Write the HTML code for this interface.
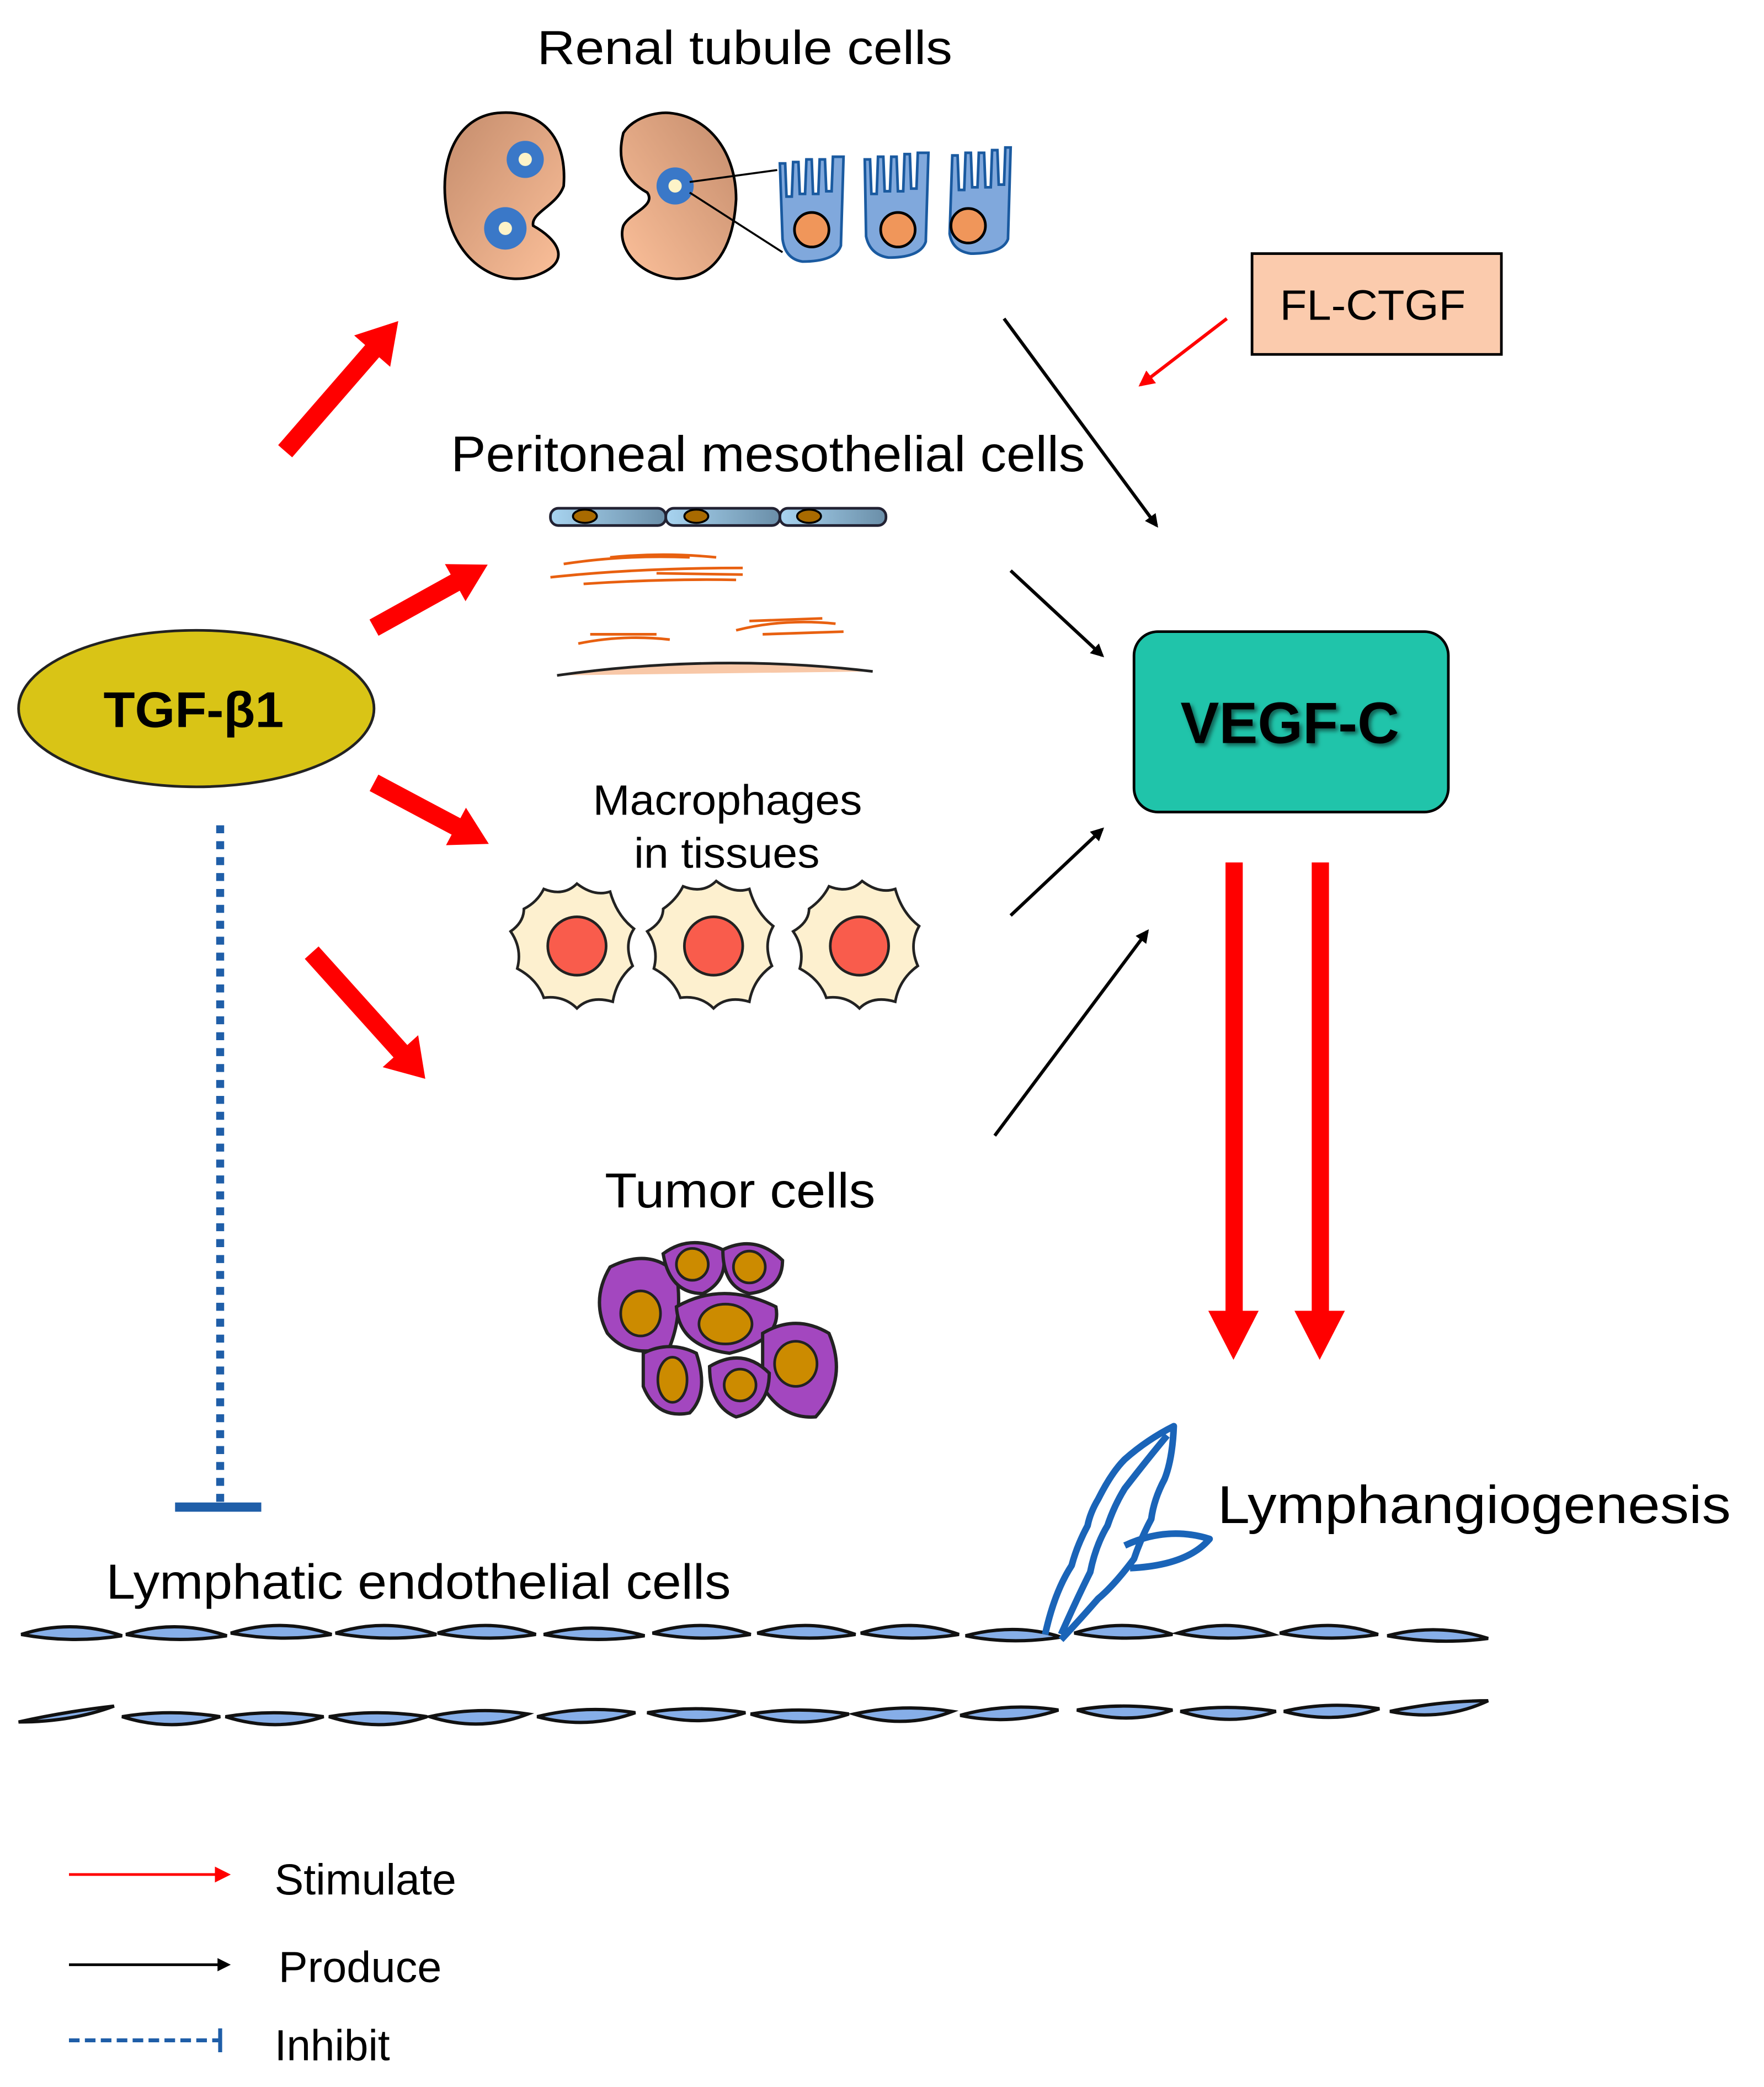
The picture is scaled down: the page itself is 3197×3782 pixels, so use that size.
<!DOCTYPE html>
<html><head><meta charset="utf-8"><style>html,body{margin:0;padding:0;background:#fff}svg{display:block}</style></head>
<body>
<svg width="3197" height="3782" viewBox="0 0 1330 1573" xmlns="http://www.w3.org/2000/svg" font-family="Liberation Sans, sans-serif">
<defs>
<marker id="bk" markerWidth="10" markerHeight="10" refX="8" refY="5" orient="auto" markerUnits="userSpaceOnUse"><path d="M0,0 L10,5 L0,10 z" fill="#000"/></marker>
<marker id="rd" markerWidth="12" markerHeight="12" refX="10" refY="6" orient="auto" markerUnits="userSpaceOnUse"><path d="M0,0 L12,6 L0,12 z" fill="#f00"/></marker>
<linearGradient id="kid" x1="0" y1="0" x2="1" y2="1"><stop offset="0" stop-color="#c48c6c"/><stop offset="1" stop-color="#fcc09a"/></linearGradient>
<linearGradient id="kid2" x1="0" y1="1" x2="1" y2="0"><stop offset="0" stop-color="#fcc09a"/><stop offset="1" stop-color="#c48c6c"/></linearGradient>
<linearGradient id="meso" x1="0" y1="0" x2="1" y2="0"><stop offset="0" stop-color="#a8d4f0"/><stop offset="1" stop-color="#6a8ea8"/></linearGradient>
<filter id="sh"><feDropShadow dx="2" dy="2" stdDeviation="1.5" flood-color="#000" flood-opacity="0.5"/></filter>
</defs>

<text x="405" y="48" font-size="36" textLength="313" lengthAdjust="spacingAndGlyphs">Renal tubule cells</text>
<path d="M375,85 C405,82 428,100 425,140 C420,155 400,160 402,170 C420,180 430,195 410,205 C380,220 345,200 337,160 C330,120 345,88 375,85 z" fill="url(#kid)" stroke="#000" stroke-width="2"/>
<circle cx="396" cy="120" r="14" fill="#3a78c8"/><circle cx="396" cy="120" r="5" fill="#fdf3c8"/>
<circle cx="381" cy="172" r="16" fill="#3a78c8"/><circle cx="381" cy="172" r="5" fill="#fdf3c8"/>
<path d="M505,85 C535,88 555,115 555,150 C553,185 540,210 510,210 C480,208 465,185 470,170 C475,160 495,155 488,145 C470,135 465,120 470,100 C478,88 495,84 505,85 z" fill="url(#kid2)" stroke="#000" stroke-width="2"/>
<circle cx="509" cy="140" r="14" fill="#3a78c8"/><circle cx="509" cy="140" r="5" fill="#fdf3c8"/>
<line x1="520" y1="137" x2="586" y2="128" stroke="#000" stroke-width="1.5"/>
<line x1="520" y1="145" x2="590" y2="190" stroke="#000" stroke-width="1.5"/>
<g fill="#80a8dc" stroke="#1a5aa0" stroke-width="2">
<path d="M588,123 L592,123 L593,148 L597,148 L598,122 L602,122 L603,146 L607,146 L608,120 L612,120 L613,146 L617,146 L618,120 L622,120 L623,144 L627,144 L628,118 L636,118 L634,185 Q630,197 605,197 Q592,195 590,180 z"/>
<path d="M652,120 L656,120 L657,146 L661,146 L662,118 L666,118 L667,144 L671,144 L672,118 L676,118 L677,144 L681,144 L682,116 L686,116 L687,142 L691,142 L692,115 L700,115 L698,182 Q694,194 670,194 Q656,192 653,178 z"/>
<path d="M718,117 L722,117 L723,143 L727,143 L728,115 L732,115 L733,141 L737,141 L738,115 L742,115 L743,141 L747,141 L748,113 L752,113 L753,139 L757,139 L758,111 L762,111 L760,180 Q756,191 732,191 Q718,189 716,176 z"/>
</g>
<g fill="#f0965a" stroke="#000" stroke-width="2"><circle cx="612" cy="173" r="13"/><circle cx="677" cy="173" r="13"/><circle cx="730" cy="170" r="13"/></g>

<rect x="944" y="191" width="188" height="76" fill="#fbcbad" stroke="#000" stroke-width="2"/>
<text x="965" y="241" font-size="32" textLength="140" lengthAdjust="spacingAndGlyphs">FL-CTGF</text>
<line x1="925" y1="240" x2="860" y2="290" stroke="#f00" stroke-width="2.5" marker-end="url(#rd)"/>

<g stroke="#000" stroke-width="2.5" marker-end="url(#bk)">
<line x1="757" y1="240" x2="872" y2="396"/>
<line x1="762" y1="430" x2="831" y2="494"/>
<line x1="762" y1="690" x2="831" y2="625"/>
<line x1="750" y1="856" x2="865" y2="702"/>
</g>

<g fill="#f00">
<g transform="translate(215,340) rotate(-49)"><path d="M0,-7 L100,-7 L100,-18 L130,0 L100,18 L100,7 L0,7 z"/></g>
<g transform="translate(282,473) rotate(-29)"><path d="M0,-7 L70,-7 L70,-16 L98,0 L70,16 L70,7 L0,7 z"/></g>
<g transform="translate(282,590) rotate(28)"><path d="M0,-7 L70,-7 L70,-16 L98,0 L70,16 L70,7 L0,7 z"/></g>
<g transform="translate(235,718) rotate(48)"><path d="M0,-7 L100,-7 L100,-18 L128,0 L100,18 L100,7 L0,7 z"/></g>
<path d="M924,650 L937,650 L937,988 L949,988 L930,1025 L911,988 L924,988 z"/>
<path d="M989,650 L1002,650 L1002,988 L1014,988 L995,1025 L976,988 L989,988 z"/>
</g>

<text x="340" y="355" font-size="38" textLength="478" lengthAdjust="spacingAndGlyphs">Peritoneal mesothelial cells</text>
<g stroke="#223" stroke-width="2" fill="url(#meso)">
<rect x="415" y="383" width="87" height="13" rx="6"/><rect x="502" y="383" width="86" height="13" rx="6"/><rect x="588" y="383" width="80" height="13" rx="6"/>
</g>
<g fill="#a86a00" stroke="#000" stroke-width="1.5"><ellipse cx="441" cy="389" rx="9" ry="5"/><ellipse cx="525" cy="389" rx="9" ry="5"/><ellipse cx="610" cy="389" rx="9" ry="5"/></g>
<g stroke="#e86010" stroke-width="2" fill="none">
<path d="M415,435 Q480,428 560,428"/><path d="M425,425 Q470,418 520,420"/><path d="M440,440 Q500,436 555,437"/><path d="M460,420 Q500,416 540,420"/><path d="M495,432 L560,433"/>
<path d="M436,485 Q470,478 505,482"/><path d="M445,478 L495,478"/><path d="M555,475 Q590,466 630,470"/><path d="M565,468 L620,466"/><path d="M575,478 L636,476"/>
</g>
<path d="M420,509 Q540,492 658,506" fill="#f8c8a8" stroke="#222" stroke-width="2"/>

<ellipse cx="148" cy="534" rx="134" ry="59" fill="#d9c416" stroke="#222" stroke-width="2"/>
<text x="78" y="548" font-size="38" font-weight="bold" textLength="136" lengthAdjust="spacingAndGlyphs">TGF-β1</text>

<rect x="855" y="476" width="237" height="136" rx="18" fill="#20c4aa" stroke="#000" stroke-width="2"/>
<text x="890" y="560" font-size="44" font-weight="bold" textLength="165" lengthAdjust="spacingAndGlyphs" filter="url(#sh)">VEGF-C</text>

<text x="447" y="614" font-size="32" textLength="203" lengthAdjust="spacingAndGlyphs">Macrophages</text>
<text x="478" y="654" font-size="32" textLength="140" lengthAdjust="spacingAndGlyphs">in tissues</text>
<g fill="#fdf0cf" stroke="#222" stroke-width="2">
<path d="M395,685 Q405,680 410,670 Q425,676 435,666 Q448,676 460,672 Q465,690 478,700 Q470,712 477,728 Q465,738 462,755 Q445,750 435,760 Q425,750 410,752 Q405,738 390,730 Q394,715 385,702 Q395,695 395,685 z"/>
<path d="M500,685 Q510,678 515,668 Q530,674 540,664 Q553,674 565,670 Q570,688 583,698 Q575,712 582,728 Q568,738 565,755 Q548,750 538,760 Q528,750 513,752 Q508,738 493,730 Q497,715 488,702 Q500,695 500,685 z"/>
<path d="M610,685 Q620,678 625,668 Q640,674 650,664 Q663,674 675,670 Q680,688 693,698 Q685,712 692,728 Q678,738 675,755 Q658,750 648,760 Q638,750 623,752 Q618,738 603,730 Q607,715 598,702 Q610,695 610,685 z"/>
</g>
<g fill="#f95c4c" stroke="#222" stroke-width="2"><circle cx="435" cy="713" r="22"/><circle cx="538" cy="713" r="22"/><circle cx="648" cy="713" r="22"/></g>

<text x="456" y="910" font-size="37" textLength="204" lengthAdjust="spacingAndGlyphs">Tumor cells</text>
<g fill="#a347bf" stroke="#222" stroke-width="2.5">
<path d="M460,955 Q490,940 510,960 Q515,990 505,1015 Q475,1025 458,1005 Q445,980 460,955 z"/>
<path d="M500,945 Q520,930 545,942 Q550,965 530,975 Q505,975 500,945 z"/>
<path d="M545,942 Q570,930 590,950 Q590,972 565,975 Q545,970 545,942 z"/>
<path d="M510,985 Q545,965 585,985 Q590,1010 550,1020 Q512,1015 510,985 z"/>
<path d="M575,1005 Q600,990 625,1005 Q640,1040 615,1068 Q590,1070 575,1045 z"/>
<path d="M485,1020 Q505,1010 525,1020 Q535,1050 520,1065 Q495,1070 485,1045 z"/>
<path d="M535,1030 Q560,1015 580,1035 Q580,1062 555,1068 Q535,1060 535,1030 z"/>
</g>
<g fill="#cc8b00" stroke="#222" stroke-width="2">
<ellipse cx="483" cy="990" rx="15" ry="17"/><circle cx="522" cy="953" r="12"/><circle cx="565" cy="955" r="12"/>
<ellipse cx="547" cy="998" rx="20" ry="15"/><ellipse cx="600" cy="1028" rx="16" ry="17"/><ellipse cx="507" cy="1040" rx="11" ry="17"/><circle cx="558" cy="1044" r="12"/>
</g>

<line x1="166" y1="622" x2="166" y2="1132" stroke="#1f5ea8" stroke-width="6" stroke-dasharray="6,6"/>
<line x1="132" y1="1136" x2="197" y2="1136" stroke="#1f5ea8" stroke-width="7"/>

<text x="80" y="1205" font-size="37" textLength="471" lengthAdjust="spacingAndGlyphs">Lymphatic endothelial cells</text>
<text x="918" y="1148" font-size="40" textLength="387" lengthAdjust="spacingAndGlyphs">Lymphangiogenesis</text>

<g fill="#86aee8" stroke="#111" stroke-width="2.5">
<path d="M16,1232 q38,-12 76,1 q-38,6 -76,-1 z"/>
<path d="M95,1232 q38,-12 76,1 q-38,6 -76,-1 z"/>
<path d="M174,1231 q38,-12 76,1 q-38,6 -76,-1 z"/>
<path d="M253,1231 q38,-12 76,1 q-38,6 -76,-1 z"/>
<path d="M330,1231 q38,-12 74,1 q-38,6 -74,-1 z"/>
<path d="M410,1232 q38,-10 76,1 q-38,6 -76,-1 z"/>
<path d="M492,1231 q38,-12 74,1 q-38,6 -74,-1 z"/>
<path d="M571,1231 q38,-12 74,1 q-38,6 -74,-1 z"/>
<path d="M649,1231 q38,-12 74,1 q-38,6 -74,-1 z"/>
<path d="M728,1233 q38,-10 72,1 q-38,6 -72,-1 z"/>
<path d="M810,1231 q38,-12 74,1 q-38,6 -74,-1 z"/>
<path d="M888,1231 q38,-12 72,1 q-38,6 -72,-1 z"/>
<path d="M965,1231 q38,-12 74,1 q-38,6 -74,-1 z"/>
<path d="M1046,1233 q38,-10 76,2 q-38,5 -76,-2 z"/>

<path d="M14,1298 q40,0 72,-12 q-36,4 -72,12 z"/>
<path d="M92,1294 q38,12 74,0 q-38,-6 -74,0 z"/>
<path d="M170,1294 q38,12 74,0 q-38,-6 -74,0 z"/>
<path d="M248,1294 q38,12 74,0 q-38,-6 -74,0 z"/>
<path d="M324,1294 q38,12 74,-2 q-38,-6 -74,2 z"/>
<path d="M405,1294 q38,10 74,-3 q-38,-6 -74,3 z"/>
<path d="M488,1291 q38,12 74,0 q-38,-6 -74,0 z"/>
<path d="M566,1292 q38,12 74,0 q-38,-6 -74,0 z"/>
<path d="M644,1292 q38,12 74,-2 q-38,-6 -74,2 z"/>
<path d="M724,1293 q38,8 74,-4 q-38,-6 -74,4 z"/>
<path d="M812,1289 q38,12 72,0 q-38,-6 -72,0 z"/>
<path d="M890,1290 q38,12 72,0 q-38,-6 -72,0 z"/>
<path d="M968,1290 q38,10 72,-2 q-38,-6 -72,2 z"/>
<path d="M1048,1290 q40,8 74,-8 q-36,0 -74,8 z"/>
</g>

<g fill="none" stroke="#1a64b8" stroke-width="5" stroke-linejoin="round">
<path d="M788,1232 Q795,1200 808,1180 Q812,1165 820,1150 Q822,1140 828,1130 Q838,1110 848,1100 Q865,1085 885,1075 Q884,1100 878,1115 Q870,1130 868,1145 Q860,1160 855,1175 Q840,1195 828,1205 Q815,1220 800,1236"/>
<path d="M800,1232 Q812,1205 822,1185 Q826,1165 835,1150 Q840,1135 848,1122 Q865,1100 880,1082"/>
<path d="M848,1165 Q880,1150 912,1160 Q895,1180 852,1182"/>
</g>

<line x1="52" y1="1413" x2="172" y2="1413" stroke="#f00" stroke-width="2" marker-end="url(#rd)"/>
<text x="207" y="1428" font-size="33" textLength="137" lengthAdjust="spacingAndGlyphs">Stimulate</text>
<line x1="52" y1="1481" x2="172" y2="1481" stroke="#000" stroke-width="2" marker-end="url(#bk)"/>
<text x="210" y="1494" font-size="33" textLength="123" lengthAdjust="spacingAndGlyphs">Produce</text>
<line x1="52" y1="1538" x2="165" y2="1538" stroke="#1f5ea8" stroke-width="3" stroke-dasharray="8,4"/>
<line x1="166" y1="1529" x2="166" y2="1547" stroke="#1f5ea8" stroke-width="3"/>
<text x="207" y="1553" font-size="33" textLength="87" lengthAdjust="spacingAndGlyphs">Inhibit</text>
</svg>
</body></html>
